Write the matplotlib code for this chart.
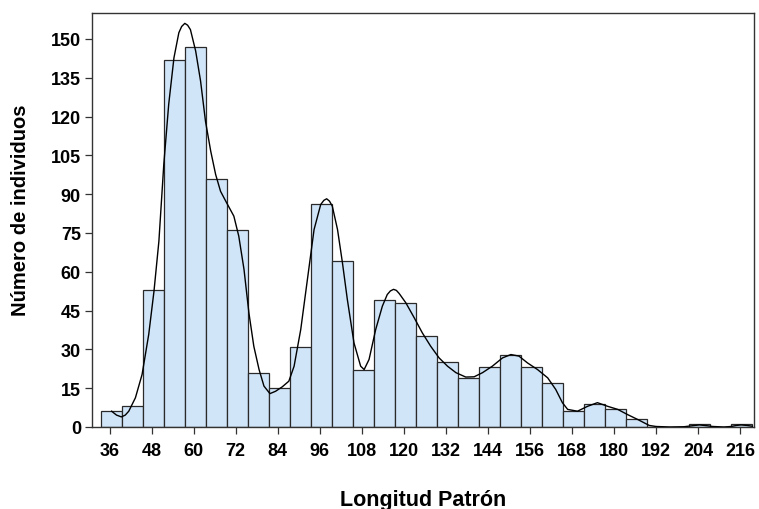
import numpy as np
import matplotlib
matplotlib.use("Agg")
import matplotlib.pyplot as plt

plt.rcParams['font.family'] = ['Liberation Sans', 'DejaVu Sans']

# Histogram counts (bins of width 6, first bin starting at 33.5)
bin_start = 33.5
bin_width = 6
counts = [6, 8, 53, 142, 147, 96, 76, 21, 15, 31, 86, 64, 22, 49, 48, 35, 25,
          19, 23, 28, 23, 17, 6, 9, 7, 3, 0, 0, 1, 0, 1]

# Density curve
curve_x = [36.6, 38.0, 39.4, 40.5, 41.5, 43.4, 45.3, 47.2, 48.7, 50.1, 51.5, 52.9,
           54.4, 55.8, 56.6, 57.5, 58.3, 59.1, 60.6, 62.0, 63.4, 64.9, 66.3, 67.7,
           69.3, 71.5, 72.9, 74.4, 75.8, 77.2, 78.7, 80.1, 81.8, 83.4, 85.3, 87.2,
           88.7, 90.6, 92.5, 94.4, 96.3, 97.2, 98.0, 98.8, 99.6, 101.1, 102.5, 103.9,
           105.8, 107.7, 108.7, 110.1, 112.0, 113.9, 115.3, 116.2, 117.1, 117.9,
           118.7, 120.6, 123.0, 125.3, 127.7, 130.1, 132.5, 134.9, 137.7, 140.1,
           142.5, 145.3, 148.2, 150.6, 152.9, 155.3, 158.2, 161.1, 163.4, 165.3,
           166.8, 169.6, 172.5, 175.3, 178.2, 181.1, 183.9, 186.8, 190.1, 192.0,
           196.0, 200.0, 202.5, 204.4, 206.5, 208.2, 211.4, 213.5, 215.0, 216.3,
           218.0, 219.5]
curve_y = [6.1, 4.6, 3.9, 4.6, 6.1, 11.3, 20.3, 35.8, 52.5, 71.8, 101.5, 124.7,
           142.7, 152.4, 154.8, 156.0, 155.3, 153.6, 145.3, 133.7, 118.2, 106.6,
           97.6, 91.1, 87.0, 81.5, 73.8, 60.9, 44.1, 31.2, 22.2, 15.8, 12.9, 13.8,
           15.5, 17.7, 23.5, 37.7, 57.0, 76.3, 86.0, 87.6, 88.2, 87.3, 85.4, 76.3,
           63.5, 49.3, 32.5, 23.5, 22.2, 26.1, 37.7, 46.7, 51.2, 52.6, 53.2, 52.8,
           51.6, 48.0, 42.2, 36.4, 31.2, 26.7, 23.5, 21.0, 19.3, 19.4, 21.0, 23.5,
           26.7, 28.0, 27.4, 24.8, 22.2, 19.0, 14.5, 9.4, 6.8, 6.1, 8.0, 9.4, 8.0,
           6.8, 4.8, 2.9, 0.6, 0.2, 0.0, 0.1, 0.5, 0.8, 0.5, 0.2, 0.0, 0.2, 0.6,
           0.8, 0.6, 0.3]

xticks = [36, 48, 60, 72, 84, 96, 108, 120, 132, 144, 156, 168, 180, 192, 204, 216]
yticks = [0, 15, 30, 45, 60, 75, 90, 105, 120, 135, 150]

fig = plt.figure(figsize=(7.59, 5.10), dpi=100)
ax = fig.add_axes([0.1212, 0.1608, 0.8722, 0.8117])

lefts = bin_start + bin_width * np.arange(len(counts))
ax.bar(lefts, counts, width=bin_width, align='edge', color='#d0e5f8',
       edgecolor='#2a2a2a', linewidth=0.9, zorder=2)
ax.plot(curve_x, curve_y, color='black', linewidth=1.0, zorder=3)

ax.set_xlim(31, 220)
ax.set_ylim(0, 160)
ax.set_xticks(xticks)
ax.set_yticks(yticks)
ax.tick_params(axis='both', direction='out', length=5, width=0.9,
               labelsize=13, color='#333333')
ax.tick_params(axis='x', pad=6)
ax.tick_params(axis='y', pad=3)
for lab in ax.get_xticklabels() + ax.get_yticklabels():
    lab.set_fontweight('bold')
for s in ax.spines.values():
    s.set_color('#333333')
    s.set_linewidth(1.0)

fig.text(423 / 759, 4 / 510, 'Longitud Patrón', fontsize=15.5, fontweight='bold',
         ha='center', va='baseline')
fig.text(20.5 / 759, 1 - 210.5 / 510, 'Número de individuos', fontsize=14.5,
         fontweight='bold', ha='center', va='center', rotation=90)

fig.savefig('out.png', dpi=100)
